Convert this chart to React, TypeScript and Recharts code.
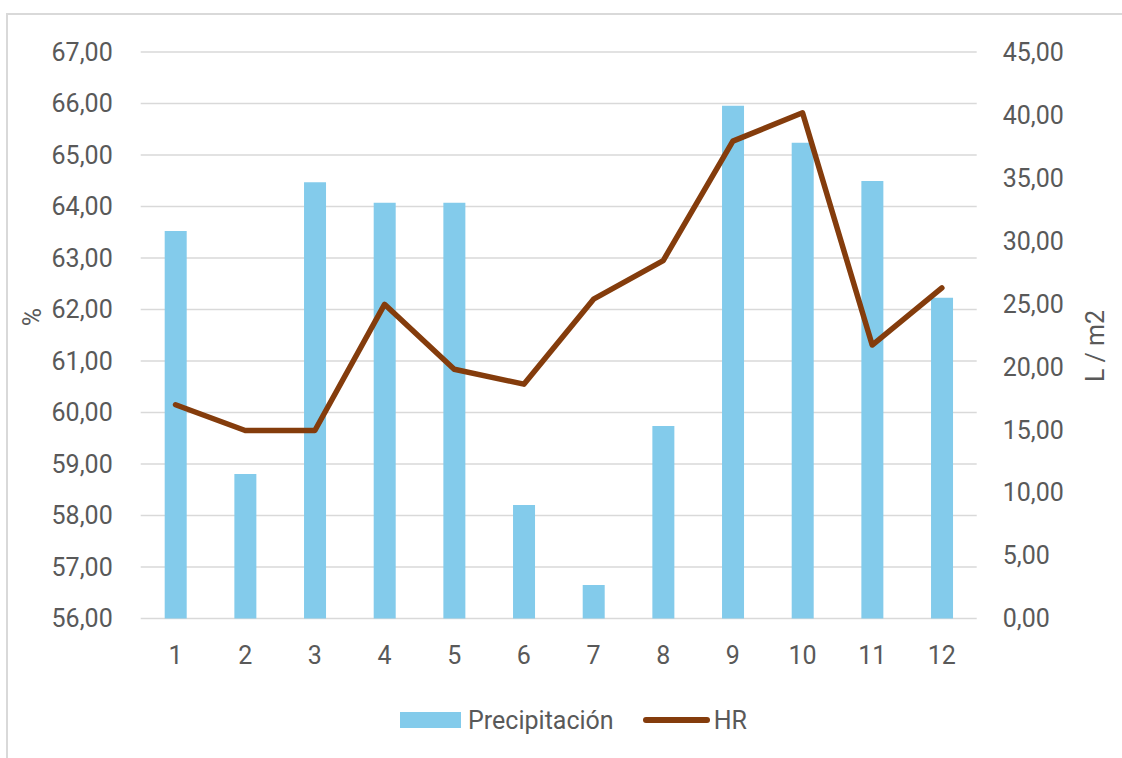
import {
    ComposedChart, Bar, Line, XAxis, YAxis, CartesianGrid, Legend, Label
} from "recharts"

// meses 1..12
const months = ["1", "2", "3", "4", "5", "6", "7", "8", "9", "10", "11", "12"]
// Precipitación (L / m2), eje derecho
const precipitacion = [30.78, 11.48, 34.65, 33.03, 33.03, 9.01, 2.66, 15.29, 40.73, 37.79, 34.75, 25.48]
// HR (%), eje izquierdo
const hr = [60.15, 59.65, 59.65, 62.1, 60.84, 60.55, 62.2, 62.95, 65.27, 65.82, 61.31, 62.42]

const hrTicks = [56, 57, 58, 59, 60, 61, 62, 63, 64, 65, 66, 67]
const precTicks = [0, 5, 10, 15, 20, 25, 30, 35, 40, 45]

const data = months.map((m, i) => ({ mes: m, precipitacion: precipitacion[i], hr: hr[i] }))

const FONT = "Roboto, 'Liberation Sans', Arial, sans-serif"
const TEXT = "#595959"
const BAR = "#83CBEB"
const LINE = "#843C0C"

// formato con coma decimal
const fmt = (v: number) => v.toFixed(2).replace(".", ",")

const tickStyle = { fill: TEXT, fontSize: 25, fontFamily: FONT }

function LegendContent() {
    return (
        <div style={{
            height: 40, display: "flex", alignItems: "center", justifyContent: "center",
            paddingLeft: 25, fontFamily: FONT, fontSize: 25, color: TEXT
        }}>
            <span style={{ display: "inline-block", width: 61, height: 16, background: BAR, marginRight: 7 }} />
            <span style={{ marginRight: 29 }}>Precipitación</span>
            <span style={{ display: "inline-block", width: 67, height: 6, borderRadius: 3, background: LINE, marginRight: 4 }} />
            <span>HR</span>
        </div>
    )
}

export default function App() {
    return (
        <div style={{ position: "absolute", left: 0, top: 0, width: 1122, height: 758, background: "#fff" }}>
            <div style={{
                position: "absolute", left: 6, top: 13, width: 1130, height: 760,
                borderLeft: "2px solid #d9d9d9", borderTop: "2px solid #d9d9d9"
            }} />
            <div style={{ position: "absolute", left: 0, top: 0 }}>
                <ComposedChart width={1122} height={758} data={data}
                    margin={{ top: 52, right: 0, bottom: 18, left: 0 }}>
                    <CartesianGrid vertical={false} stroke="#d9d9d9" strokeWidth={1.5} yAxisId="hr" />
                    <XAxis dataKey="mes" height={81.5} tick={tickStyle} tickLine={false}
                        axisLine={false} tickMargin={22} />
                    <YAxis yAxisId="hr" orientation="left" width={140.7} domain={[56, 67]}
                        ticks={hrTicks} tickFormatter={fmt} tick={tickStyle} tickLine={false}
                        axisLine={false} tickMargin={22} interval={0}>
                        <Label content={() => (
                            <text x={32} y={317} transform="rotate(-90 32 317)" textAnchor="middle"
                                dominantBaseline="central" fill={TEXT} fontSize={25} fontFamily={FONT}>%</text>
                        )} />
                    </YAxis>
                    <YAxis yAxisId="prec" orientation="right" width={145.3} domain={[0, 45]}
                        ticks={precTicks} tickFormatter={fmt} tick={tickStyle} tickLine={false}
                        axisLine={false} tickMargin={20} interval={0}>
                        <Label content={() => (
                            <text x={1095} y={346} transform="rotate(-90 1095 346)" textAnchor="middle"
                                dominantBaseline="central" fill={TEXT} fontSize={25} fontFamily={FONT}>L / m2</text>
                        )} />
                    </YAxis>
                    <Legend verticalAlign="bottom" content={() => <LegendContent />} />
                    <Bar yAxisId="prec" dataKey="precipitacion" name="Precipitación" fill={BAR}
                        barSize={22} isAnimationActive={false} />
                    <Line yAxisId="hr" dataKey="hr" name="HR" stroke={LINE} strokeWidth={5.5}
                        strokeLinejoin="round" strokeLinecap="round" dot={false} activeDot={false}
                        isAnimationActive={false} />
                </ComposedChart>
            </div>
        </div>
    )
}
